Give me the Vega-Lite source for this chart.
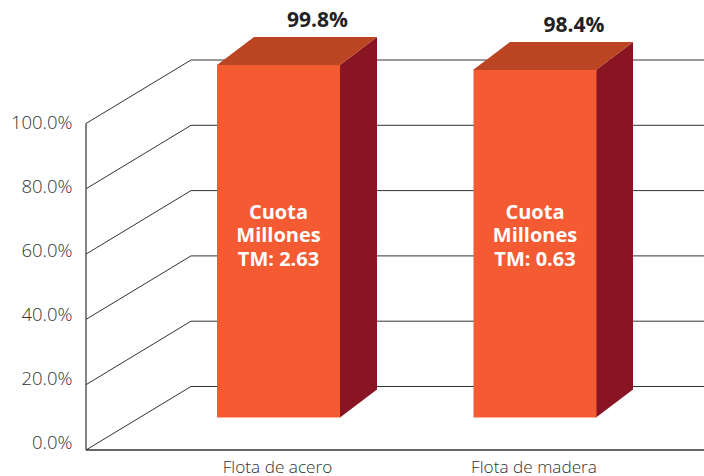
{
"$schema":"https://vega.github.io/schema/vega-lite/v6.json",
"width":618,"height":390,
"padding":{"left":86,"top":60,"right":0,"bottom":26},
"autosize":"none",
"background":"white",
"config":{"view":{"stroke":null},"font":"Open Sans"},
"datasets":{
 "flotas":[
  {"flota":"Flota de acero","cuota":99.8,"porcentaje":"99.8%","rotulo":"Cuota\nMillones\nTM: 2.63"},
  {"flota":"Flota de madera","cuota":98.4,"porcentaje":"98.4%","rotulo":"Cuota\nMillones\nTM: 0.63"}
 ],
 "niveles":[{"nivel":0},{"nivel":20},{"nivel":40},{"nivel":60},{"nivel":80},{"nivel":100}]
},
"resolve":{"scale":{"x":"independent","y":"independent"}},
"layer":[
 {"data":{"name":"niveles"},
  "transform":[{"calculate":"0","as":"xa"}],
  "mark":{"type":"tick","opacity":0},
  "encoding":{
   "x":{"field":"xa","type":"quantitative","scale":{"domain":[0,618],"nice":false,"zero":false},"axis":null},
   "y":{"field":"nivel","type":"quantitative","scale":{"domain":[-2.5,119.375],"nice":false,"zero":false},
     "axis":{"orient":"left","values":[0,20,40,60,80,100],"domain":false,"ticks":false,"grid":false,"title":null,
       "labelExpr":"format(datum.value,'.1f')+'%'","labelFontSize":18.5,"labelColor":"#333333","labelPadding":14,"labelFontWeight":300}}
  }},
 {"data":{"name":"niveles"},
  "transform":[{"calculate":"datum.nivel+19.45","as":"fondo"},{"calculate":"0","as":"xa"},{"calculate":"105","as":"xb"}],
  "mark":{"type":"rule","color":"#333333","strokeWidth":1},
  "encoding":{
   "x":{"field":"xa","type":"quantitative","scale":{"domain":[0,618],"nice":false,"zero":false},"axis":null},
   "x2":{"field":"xb"},
   "y":{"field":"nivel","type":"quantitative","scale":{"domain":[0,119.45],"nice":false},"axis":null},
   "y2":{"field":"fondo"}
  }},
 {"data":{"name":"niveles"},
  "transform":[{"calculate":"datum.nivel+19.45","as":"fondo"},{"calculate":"105","as":"xa"},{"calculate":"618","as":"xb"}],
  "mark":{"type":"rule","color":"#333333","strokeWidth":1},
  "encoding":{
   "x":{"field":"xa","type":"quantitative","scale":{"domain":[0,618],"nice":false,"zero":false},"axis":null},
   "x2":{"field":"xb"},
   "y":{"field":"fondo","type":"quantitative","scale":{"domain":[0,119.45],"nice":false},"axis":null}
  }},
 {"data":{"values":[{"base":0,"tope":100}]},
  "transform":[{"calculate":"0","as":"xa"}],
  "mark":{"type":"rule","color":"#333333","strokeWidth":1.2},
  "encoding":{
   "x":{"field":"xa","type":"quantitative","scale":{"domain":[0,618],"nice":false,"zero":false},"axis":null},
   "y":{"field":"base","type":"quantitative","scale":{"domain":[0,119.45],"nice":false},"axis":null},
   "y2":{"field":"tope"}
  }},
 {"data":{"values":[{"nivel":0}]},
  "transform":[{"calculate":"0","as":"xa"},{"calculate":"618","as":"xb"}],
  "mark":{"type":"rule","color":"#333333","strokeWidth":1.5},
  "encoding":{
   "x":{"field":"xa","type":"quantitative","scale":{"domain":[0,618],"nice":false,"zero":false},"axis":null},
   "x2":{"field":"xb"},
   "y":{"field":"nivel","type":"quantitative","scale":{"domain":[0,119.45],"nice":false},"axis":null}
  }},
 {"data":{"name":"flotas"},
  "transform":[
   {"calculate":"[0,1]","as":"d"},{"flatten":["d"]},
   {"calculate":"(datum.flota==='Flota de acero'?131:387)+123+37*datum.d","as":"px"},
   {"calculate":"datum.cuota+7.93*datum.d","as":"arriba"},
   {"calculate":"7.93*datum.d","as":"abajo"}
  ],
  "mark":{"type":"area","color":"#8A1522","orient":"vertical"},
  "encoding":{
   "x":{"field":"px","type":"quantitative","scale":{"domain":[0,618],"nice":false,"zero":false},"axis":null},
   "y":{"field":"arriba","type":"quantitative","scale":{"domain":[-9.2,101.2],"nice":false,"zero":false},"axis":null},
   "y2":{"field":"abajo"},
   "detail":{"field":"flota"}
  }},
 {"data":{"name":"flotas"},
  "transform":[
   {"calculate":"[0,1]","as":"d"},{"flatten":["d"]},
   {"calculate":"(datum.flota==='Flota de acero'?131:387)+37*datum.d","as":"px"},
   {"calculate":"datum.px+123","as":"px2"},
   {"calculate":"datum.cuota+7.93*datum.d","as":"arriba"}
  ],
  "mark":{"type":"area","color":"#BB4422","orient":"horizontal"},
  "encoding":{
   "y":{"field":"arriba","type":"quantitative","scale":{"domain":[-9.2,101.2],"nice":false,"zero":false},"axis":null},
   "x":{"field":"px","type":"quantitative","scale":{"domain":[0,618],"nice":false,"zero":false},"axis":null},
   "x2":{"field":"px2"},
   "detail":{"field":"flota"}
  }},
 {"data":{"name":"flotas"},
  "mark":{"type":"bar","width":123,"color":"#F45B32"},
  "encoding":{
   "x":{"field":"flota","type":"nominal","scale":{"type":"point","padding":0,"domain":["Flota de acero","Flota de madera"],"range":[192.5,449]},
     "axis":{"orient":"bottom","title":null,"domain":false,"ticks":false,"grid":false,"labelAngle":0,"labelFontSize":17.2,"labelColor":"#333333","labelPadding":8,"labelOffset":-1.5,"labelFontWeight":300}},
   "y":{"field":"cuota","type":"quantitative","scale":{"domain":[-9.2,101.2],"nice":false,"zero":false},"axis":null}
  }},
 {"data":{"name":"flotas"},
  "mark":{"type":"text","fontSize":21,"fontWeight":"bold","color":"#222222","dx":39,"dy":-44,"baseline":"middle"},
  "encoding":{
   "x":{"field":"flota","type":"nominal","scale":{"type":"point","padding":0,"domain":["Flota de acero","Flota de madera"],"range":[192.5,449]},"axis":null},
   "y":{"field":"cuota","type":"quantitative","scale":{"domain":[-9.2,101.2],"nice":false,"zero":false},"axis":null},
   "text":{"field":"porcentaje"}
  }},
 {"data":{"name":"flotas"},
  "transform":[{"calculate":"58","as":"centro"}],
  "mark":{"type":"text","fontSize":20,"fontWeight":"bold","color":"#ffffff","lineBreak":"\n","lineHeight":23.5,"baseline":"middle"},
  "encoding":{
   "x":{"field":"flota","type":"nominal","scale":{"type":"point","padding":0,"domain":["Flota de acero","Flota de madera"],"range":[192.5,449]},"axis":null},
   "y":{"field":"centro","type":"quantitative","scale":{"domain":[-9.2,101.2],"nice":false,"zero":false},"axis":null},
   "text":{"field":"rotulo"}
  }}
]
}
